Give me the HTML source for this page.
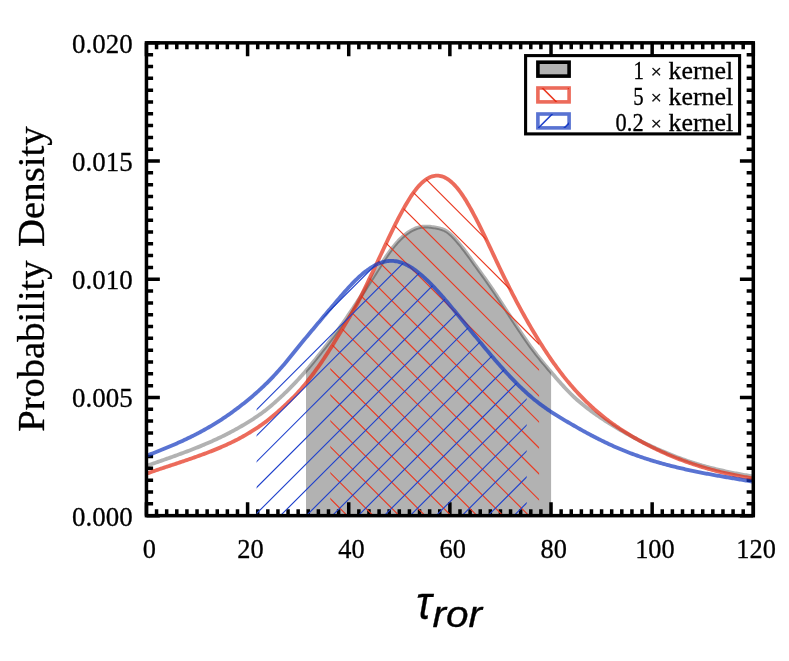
<!DOCTYPE html>
<html><head><meta charset="utf-8"><title>tau_ror posterior</title>
<style>
html,body{margin:0;padding:0;background:#fff;}
body{width:789px;height:661px;overflow:hidden;font-family:"Liberation Serif",serif;}
svg{display:block;will-change:transform;}
text{font-family:"Liberation Serif",serif;fill:#000;stroke:#000;stroke-width:0.3px;stroke-linejoin:round;}
.sans{font-family:"Liberation Sans",sans-serif;font-style:italic;}
</style></head><body>
<svg width="789" height="661" viewBox="0 0 789 661">
<rect x="0" y="0" width="789" height="661" fill="#ffffff"/>
<defs>
<clipPath id="axclip"><rect x="146.45" y="42.85" width="606.85" height="472.80"/></clipPath>
<clipPath id="redclip"><path d="M330.30 515.65 L330.30 348.73 L331.35 347.06 L332.40 345.37 L333.45 343.66 L334.50 341.94 L335.55 340.21 L336.60 338.48 L337.64 336.75 L338.69 335.01 L339.74 333.28 L340.79 331.54 L341.84 329.81 L342.89 328.07 L343.94 326.33 L344.99 324.60 L346.04 322.86 L347.09 321.11 L348.14 319.34 L349.19 317.57 L350.24 315.78 L351.28 313.99 L352.33 312.18 L353.38 310.36 L354.43 308.53 L355.48 306.68 L356.53 304.78 L357.58 302.85 L358.63 300.88 L359.68 298.88 L360.73 296.83 L361.78 294.74 L362.83 292.61 L363.88 290.44 L364.93 288.26 L365.97 286.05 L367.02 283.84 L368.07 281.62 L369.12 279.41 L370.17 277.20 L371.22 274.99 L372.27 272.78 L373.32 270.58 L374.37 268.38 L375.42 266.17 L376.47 263.95 L377.52 261.72 L378.57 259.49 L379.61 257.25 L380.66 255.01 L381.71 252.77 L382.76 250.53 L383.81 248.29 L384.86 246.06 L385.91 243.83 L386.96 241.61 L388.01 239.40 L389.06 237.20 L390.11 235.00 L391.16 232.83 L392.21 230.66 L393.25 228.52 L394.30 226.39 L395.35 224.29 L396.40 222.20 L397.45 220.14 L398.50 218.10 L399.55 216.08 L400.60 214.09 L401.65 212.14 L402.70 210.22 L403.75 208.32 L404.80 206.46 L405.85 204.64 L406.89 202.85 L407.94 201.10 L408.99 199.39 L410.04 197.73 L411.09 196.11 L412.14 194.55 L413.19 193.04 L414.24 191.59 L415.29 190.19 L416.34 188.86 L417.39 187.59 L418.44 186.38 L419.49 185.23 L420.54 184.15 L421.58 183.13 L422.63 182.17 L423.68 181.27 L424.73 180.44 L425.78 179.67 L426.83 178.97 L427.88 178.33 L428.93 177.75 L429.98 177.24 L431.03 176.80 L432.08 176.43 L433.13 176.14 L434.18 175.90 L435.22 175.74 L436.27 175.64 L437.32 175.61 L438.37 175.66 L439.42 175.79 L440.47 175.99 L441.52 176.26 L442.57 176.59 L443.62 176.99 L444.67 177.46 L445.72 177.99 L446.77 178.60 L447.82 179.27 L448.86 180.01 L449.91 180.81 L450.96 181.67 L452.01 182.59 L453.06 183.57 L454.11 184.61 L455.16 185.72 L456.21 186.89 L457.26 188.13 L458.31 189.42 L459.36 190.78 L460.41 192.19 L461.46 193.65 L462.51 195.18 L463.55 196.76 L464.60 198.40 L465.65 200.08 L466.70 201.81 L467.75 203.57 L468.80 205.37 L469.85 207.21 L470.90 209.09 L471.95 211.00 L473.00 212.94 L474.05 214.91 L475.10 216.90 L476.15 218.92 L477.19 220.97 L478.24 223.05 L479.29 225.14 L480.34 227.25 L481.39 229.39 L482.44 231.54 L483.49 233.70 L484.54 235.88 L485.59 238.07 L486.64 240.27 L487.69 242.48 L488.74 244.70 L489.79 246.93 L490.83 249.15 L491.88 251.38 L492.93 253.62 L493.98 255.85 L495.03 258.07 L496.08 260.30 L497.13 262.52 L498.18 264.73 L499.23 266.94 L500.28 269.13 L501.33 271.31 L502.38 273.48 L503.43 275.64 L504.47 277.78 L505.52 279.91 L506.57 282.03 L507.62 284.14 L508.67 286.23 L509.72 288.31 L510.77 290.37 L511.82 292.42 L512.87 294.46 L513.92 296.49 L514.97 298.51 L516.02 300.50 L517.07 302.49 L518.12 304.46 L519.16 306.42 L520.21 308.37 L521.26 310.30 L522.31 312.22 L523.36 314.13 L524.41 316.02 L525.46 317.89 L526.51 319.76 L527.56 321.61 L528.61 323.44 L529.66 325.27 L530.71 327.08 L531.76 328.87 L532.80 330.65 L533.85 332.41 L534.90 334.16 L535.95 335.90 L537.00 337.62 L538.05 339.33 L539.10 341.03 L539.10 515.65 Z"/></clipPath>
<clipPath id="blueclip"><path d="M256.60 515.65 L256.60 392.61 L257.96 391.40 L259.31 390.17 L260.67 388.92 L262.03 387.66 L263.39 386.38 L264.74 385.09 L266.10 383.77 L267.46 382.44 L268.82 381.08 L270.17 379.70 L271.53 378.30 L272.89 376.88 L274.24 375.44 L275.60 373.97 L276.96 372.48 L278.32 370.98 L279.67 369.46 L281.03 367.93 L282.39 366.37 L283.75 364.79 L285.10 363.19 L286.46 361.57 L287.82 359.93 L289.17 358.28 L290.53 356.60 L291.89 354.92 L293.25 353.23 L294.60 351.53 L295.96 349.84 L297.32 348.15 L298.68 346.47 L300.03 344.80 L301.39 343.14 L302.75 341.50 L304.11 339.86 L305.46 338.23 L306.82 336.61 L308.18 334.99 L309.53 333.36 L310.89 331.74 L312.25 330.12 L313.61 328.50 L314.96 326.88 L316.32 325.26 L317.68 323.64 L319.04 322.02 L320.39 320.41 L321.75 318.79 L323.11 317.18 L324.46 315.57 L325.82 313.96 L327.18 312.36 L328.54 310.76 L329.89 309.16 L331.25 307.56 L332.61 305.96 L333.97 304.37 L335.32 302.77 L336.68 301.17 L338.04 299.57 L339.39 297.98 L340.75 296.40 L342.11 294.82 L343.47 293.26 L344.82 291.72 L346.18 290.19 L347.54 288.69 L348.90 287.21 L350.25 285.75 L351.61 284.31 L352.97 282.91 L354.32 281.53 L355.68 280.18 L357.04 278.87 L358.40 277.59 L359.75 276.35 L361.11 275.14 L362.47 273.98 L363.83 272.85 L365.18 271.77 L366.54 270.73 L367.90 269.73 L369.25 268.79 L370.61 267.88 L371.97 267.03 L373.33 266.22 L374.68 265.47 L376.04 264.76 L377.40 264.11 L378.76 263.52 L380.11 262.98 L381.47 262.51 L382.83 262.09 L384.18 261.73 L385.54 261.44 L386.90 261.20 L388.26 261.03 L389.61 260.92 L390.97 260.87 L392.33 260.90 L393.69 260.98 L395.04 261.13 L396.40 261.34 L397.76 261.61 L399.12 261.95 L400.47 262.35 L401.83 262.80 L403.19 263.32 L404.54 263.89 L405.90 264.52 L407.26 265.20 L408.62 265.93 L409.97 266.71 L411.33 267.54 L412.69 268.42 L414.05 269.34 L415.40 270.31 L416.76 271.33 L418.12 272.38 L419.47 273.47 L420.83 274.60 L422.19 275.76 L423.55 276.96 L424.90 278.19 L426.26 279.46 L427.62 280.75 L428.98 282.08 L430.33 283.43 L431.69 284.81 L433.05 286.21 L434.40 287.63 L435.76 289.08 L437.12 290.54 L438.48 292.03 L439.83 293.53 L441.19 295.05 L442.55 296.59 L443.91 298.15 L445.26 299.73 L446.62 301.32 L447.98 302.92 L449.33 304.54 L450.69 306.17 L452.05 307.81 L453.41 309.46 L454.76 311.11 L456.12 312.76 L457.48 314.41 L458.84 316.07 L460.19 317.73 L461.55 319.40 L462.91 321.06 L464.26 322.73 L465.62 324.40 L466.98 326.07 L468.34 327.73 L469.69 329.40 L471.05 331.07 L472.41 332.73 L473.77 334.40 L475.12 336.06 L476.48 337.72 L477.84 339.37 L479.19 341.02 L480.55 342.67 L481.91 344.31 L483.27 345.95 L484.62 347.58 L485.98 349.21 L487.34 350.83 L488.70 352.44 L490.05 354.05 L491.41 355.65 L492.77 357.24 L494.13 358.82 L495.48 360.39 L496.84 361.95 L498.20 363.50 L499.55 365.05 L500.91 366.58 L502.27 368.10 L503.63 369.61 L504.98 371.10 L506.34 372.59 L507.70 374.06 L509.06 375.51 L510.41 376.96 L511.77 378.38 L513.13 379.80 L514.48 381.19 L515.84 382.58 L517.20 383.94 L518.56 385.29 L519.91 386.62 L521.27 387.94 L522.63 389.23 L523.99 390.51 L525.34 391.77 L526.70 393.01 L526.70 515.65 Z"/></clipPath>
</defs>
<path d="M146.45 515.65v-13.40M146.45 42.85v13.40M156.56 515.65v-6.30M156.56 42.85v6.30M166.68 515.65v-6.30M166.68 42.85v6.30M176.79 515.65v-6.30M176.79 42.85v6.30M186.91 515.65v-6.30M186.91 42.85v6.30M197.02 515.65v-6.30M197.02 42.85v6.30M207.13 515.65v-6.30M207.13 42.85v6.30M217.25 515.65v-6.30M217.25 42.85v6.30M227.36 515.65v-6.30M227.36 42.85v6.30M237.48 515.65v-6.30M237.48 42.85v6.30M247.59 515.65v-13.40M247.59 42.85v13.40M257.71 515.65v-6.30M257.71 42.85v6.30M267.82 515.65v-6.30M267.82 42.85v6.30M277.93 515.65v-6.30M277.93 42.85v6.30M288.05 515.65v-6.30M288.05 42.85v6.30M298.16 515.65v-6.30M298.16 42.85v6.30M308.28 515.65v-6.30M308.28 42.85v6.30M318.39 515.65v-6.30M318.39 42.85v6.30M328.50 515.65v-6.30M328.50 42.85v6.30M338.62 515.65v-6.30M338.62 42.85v6.30M348.73 515.65v-13.40M348.73 42.85v13.40M358.85 515.65v-6.30M358.85 42.85v6.30M368.96 515.65v-6.30M368.96 42.85v6.30M379.08 515.65v-6.30M379.08 42.85v6.30M389.19 515.65v-6.30M389.19 42.85v6.30M399.30 515.65v-6.30M399.30 42.85v6.30M409.42 515.65v-6.30M409.42 42.85v6.30M419.53 515.65v-6.30M419.53 42.85v6.30M429.65 515.65v-6.30M429.65 42.85v6.30M439.76 515.65v-6.30M439.76 42.85v6.30M449.87 515.65v-13.40M449.87 42.85v13.40M459.99 515.65v-6.30M459.99 42.85v6.30M470.10 515.65v-6.30M470.10 42.85v6.30M480.22 515.65v-6.30M480.22 42.85v6.30M490.33 515.65v-6.30M490.33 42.85v6.30M500.45 515.65v-6.30M500.45 42.85v6.30M510.56 515.65v-6.30M510.56 42.85v6.30M520.67 515.65v-6.30M520.67 42.85v6.30M530.79 515.65v-6.30M530.79 42.85v6.30M540.90 515.65v-6.30M540.90 42.85v6.30M551.02 515.65v-13.40M551.02 42.85v13.40M561.13 515.65v-6.30M561.13 42.85v6.30M571.24 515.65v-6.30M571.24 42.85v6.30M581.36 515.65v-6.30M581.36 42.85v6.30M591.47 515.65v-6.30M591.47 42.85v6.30M601.59 515.65v-6.30M601.59 42.85v6.30M611.70 515.65v-6.30M611.70 42.85v6.30M621.82 515.65v-6.30M621.82 42.85v6.30M631.93 515.65v-6.30M631.93 42.85v6.30M642.04 515.65v-6.30M642.04 42.85v6.30M652.16 515.65v-13.40M652.16 42.85v13.40M662.27 515.65v-6.30M662.27 42.85v6.30M672.39 515.65v-6.30M672.39 42.85v6.30M682.50 515.65v-6.30M682.50 42.85v6.30M692.61 515.65v-6.30M692.61 42.85v6.30M702.73 515.65v-6.30M702.73 42.85v6.30M712.84 515.65v-6.30M712.84 42.85v6.30M722.96 515.65v-6.30M722.96 42.85v6.30M733.07 515.65v-6.30M733.07 42.85v6.30M743.19 515.65v-6.30M743.19 42.85v6.30M753.30 515.65v-13.40M753.30 42.85v13.40M146.45 515.65h13.40M753.30 515.65h-13.40M146.45 503.83h6.65M753.30 503.83h-6.65M146.45 492.01h6.65M753.30 492.01h-6.65M146.45 480.19h6.65M753.30 480.19h-6.65M146.45 468.37h6.65M753.30 468.37h-6.65M146.45 456.55h6.65M753.30 456.55h-6.65M146.45 444.73h6.65M753.30 444.73h-6.65M146.45 432.91h6.65M753.30 432.91h-6.65M146.45 421.09h6.65M753.30 421.09h-6.65M146.45 409.27h6.65M753.30 409.27h-6.65M146.45 397.45h13.40M753.30 397.45h-13.40M146.45 385.63h6.65M753.30 385.63h-6.65M146.45 373.81h6.65M753.30 373.81h-6.65M146.45 361.99h6.65M753.30 361.99h-6.65M146.45 350.17h6.65M753.30 350.17h-6.65M146.45 338.35h6.65M753.30 338.35h-6.65M146.45 326.53h6.65M753.30 326.53h-6.65M146.45 314.71h6.65M753.30 314.71h-6.65M146.45 302.89h6.65M753.30 302.89h-6.65M146.45 291.07h6.65M753.30 291.07h-6.65M146.45 279.25h13.40M753.30 279.25h-13.40M146.45 267.43h6.65M753.30 267.43h-6.65M146.45 255.61h6.65M753.30 255.61h-6.65M146.45 243.79h6.65M753.30 243.79h-6.65M146.45 231.97h6.65M753.30 231.97h-6.65M146.45 220.15h6.65M753.30 220.15h-6.65M146.45 208.33h6.65M753.30 208.33h-6.65M146.45 196.51h6.65M753.30 196.51h-6.65M146.45 184.69h6.65M753.30 184.69h-6.65M146.45 172.87h6.65M753.30 172.87h-6.65M146.45 161.05h13.40M753.30 161.05h-13.40M146.45 149.23h6.65M753.30 149.23h-6.65M146.45 137.41h6.65M753.30 137.41h-6.65M146.45 125.59h6.65M753.30 125.59h-6.65M146.45 113.77h6.65M753.30 113.77h-6.65M146.45 101.95h6.65M753.30 101.95h-6.65M146.45 90.13h6.65M753.30 90.13h-6.65M146.45 78.31h6.65M753.30 78.31h-6.65M146.45 66.49h6.65M753.30 66.49h-6.65M146.45 54.67h6.65M753.30 54.67h-6.65M146.45 42.85h13.40M753.30 42.85h-13.40" stroke="#000" stroke-width="3.5" fill="none"/>
<g clip-path="url(#axclip)">
<path d="M306.00 515.65 L306.00 370.76 L307.23 369.33 L308.46 367.87 L309.69 366.41 L310.93 364.93 L312.16 363.44 L313.39 361.93 L314.62 360.41 L315.85 358.88 L317.08 357.34 L318.32 355.79 L319.55 354.24 L320.78 352.69 L322.01 351.12 L323.24 349.56 L324.47 347.98 L325.71 346.40 L326.94 344.81 L328.17 343.21 L329.40 341.59 L330.63 339.96 L331.86 338.32 L333.10 336.66 L334.33 335.00 L335.56 333.32 L336.79 331.63 L338.02 329.92 L339.25 328.21 L340.49 326.48 L341.72 324.74 L342.95 322.99 L344.18 321.22 L345.41 319.45 L346.64 317.66 L347.88 315.87 L349.11 314.06 L350.34 312.24 L351.57 310.40 L352.80 308.56 L354.03 306.71 L355.27 304.84 L356.50 302.97 L357.73 301.08 L358.96 299.18 L360.19 297.28 L361.42 295.36 L362.66 293.43 L363.89 291.49 L365.12 289.55 L366.35 287.60 L367.58 285.65 L368.81 283.71 L370.05 281.77 L371.28 279.84 L372.51 277.91 L373.74 275.97 L374.97 274.05 L376.20 272.12 L377.44 270.19 L378.67 268.26 L379.90 266.33 L381.13 264.41 L382.36 262.50 L383.59 260.61 L384.83 258.73 L386.06 256.89 L387.29 255.07 L388.52 253.30 L389.75 251.57 L390.98 249.88 L392.22 248.25 L393.45 246.69 L394.68 245.18 L395.91 243.73 L397.14 242.33 L398.37 241.00 L399.61 239.72 L400.84 238.50 L402.07 237.34 L403.30 236.24 L404.53 235.20 L405.76 234.21 L407.00 233.29 L408.23 232.42 L409.46 231.61 L410.69 230.86 L411.92 230.18 L413.15 229.55 L414.39 228.98 L415.62 228.48 L416.85 228.04 L418.08 227.65 L419.31 227.33 L420.54 227.07 L421.78 226.87 L423.01 226.72 L424.24 226.62 L425.47 226.57 L426.70 226.57 L427.93 226.61 L429.17 226.71 L430.40 226.84 L431.63 227.01 L432.86 227.19 L434.09 227.38 L435.32 227.59 L436.56 227.82 L437.79 228.06 L439.02 228.33 L440.25 228.64 L441.48 228.99 L442.71 229.40 L443.95 229.90 L445.18 230.48 L446.41 231.18 L447.64 231.98 L448.87 232.90 L450.10 233.92 L451.34 235.03 L452.57 236.21 L453.80 237.47 L455.03 238.80 L456.26 240.19 L457.49 241.63 L458.73 243.09 L459.96 244.59 L461.19 246.11 L462.42 247.67 L463.65 249.25 L464.88 250.86 L466.12 252.50 L467.35 254.16 L468.58 255.85 L469.81 257.56 L471.04 259.28 L472.27 261.00 L473.51 262.72 L474.74 264.43 L475.97 266.14 L477.20 267.85 L478.43 269.55 L479.66 271.24 L480.90 272.92 L482.13 274.62 L483.36 276.32 L484.59 278.05 L485.82 279.78 L487.05 281.53 L488.29 283.28 L489.52 285.04 L490.75 286.82 L491.98 288.62 L493.21 290.43 L494.44 292.25 L495.68 294.09 L496.91 295.95 L498.14 297.81 L499.37 299.69 L500.60 301.59 L501.83 303.48 L503.07 305.38 L504.30 307.28 L505.53 309.18 L506.76 311.07 L507.99 312.97 L509.22 314.86 L510.46 316.75 L511.69 318.64 L512.92 320.52 L514.15 322.39 L515.38 324.27 L516.61 326.13 L517.85 327.99 L519.08 329.84 L520.31 331.69 L521.54 333.52 L522.77 335.35 L524.00 337.17 L525.24 338.98 L526.47 340.76 L527.70 342.52 L528.93 344.26 L530.16 345.98 L531.39 347.67 L532.63 349.34 L533.86 350.98 L535.09 352.59 L536.32 354.19 L537.55 355.76 L538.78 357.32 L540.02 358.86 L541.25 360.38 L542.48 361.89 L543.71 363.38 L544.94 364.87 L546.17 366.34 L547.41 367.81 L548.64 369.27 L549.87 370.71 L551.10 372.15 L551.10 515.65 Z" fill="#000" fill-opacity="0.3" stroke="none"/>
<path d="M146.45 465.97 L147.67 465.53 L148.88 465.09 L150.10 464.65 L151.31 464.22 L152.53 463.79 L153.75 463.37 L154.96 462.94 L156.18 462.51 L157.40 462.09 L158.61 461.66 L159.83 461.23 L161.04 460.81 L162.26 460.38 L163.48 459.95 L164.69 459.53 L165.91 459.10 L167.12 458.67 L168.34 458.24 L169.56 457.81 L170.77 457.38 L171.99 456.95 L173.20 456.51 L174.42 456.07 L175.64 455.64 L176.85 455.20 L178.07 454.76 L179.29 454.31 L180.50 453.87 L181.72 453.42 L182.93 452.97 L184.15 452.52 L185.37 452.06 L186.58 451.61 L187.80 451.15 L189.01 450.68 L190.23 450.22 L191.45 449.75 L192.66 449.27 L193.88 448.80 L195.10 448.31 L196.31 447.83 L197.53 447.34 L198.74 446.85 L199.96 446.36 L201.18 445.86 L202.39 445.35 L203.61 444.85 L204.82 444.33 L206.04 443.82 L207.26 443.30 L208.47 442.77 L209.69 442.24 L210.91 441.70 L212.12 441.16 L213.34 440.61 L214.55 440.06 L215.77 439.50 L216.99 438.94 L218.20 438.36 L219.42 437.79 L220.63 437.20 L221.85 436.62 L223.07 436.02 L224.28 435.42 L225.50 434.81 L226.71 434.19 L227.93 433.57 L229.15 432.94 L230.36 432.30 L231.58 431.66 L232.80 431.01 L234.01 430.35 L235.23 429.68 L236.44 429.00 L237.66 428.32 L238.88 427.64 L240.09 426.94 L241.31 426.24 L242.52 425.53 L243.74 424.81 L244.96 424.09 L246.17 423.35 L247.39 422.61 L248.61 421.86 L249.82 421.10 L251.04 420.33 L252.25 419.56 L253.47 418.77 L254.69 417.97 L255.90 417.16 L257.12 416.34 L258.33 415.52 L259.55 414.68 L260.77 413.83 L261.98 412.95 L263.20 412.06 L264.41 411.14 L265.63 410.20 L266.85 409.24 L268.06 408.26 L269.28 407.26 L270.50 406.23 L271.71 405.19 L272.93 404.14 L274.14 403.07 L275.36 402.00 L276.58 400.91 L277.79 399.81 L279.01 398.70 L280.22 397.57 L281.44 396.43 L282.66 395.29 L283.87 394.13 L285.09 392.96 L286.31 391.77 L287.52 390.58 L288.74 389.37 L289.95 388.15 L291.17 386.92 L292.39 385.67 L293.60 384.41 L294.82 383.14 L296.03 381.85 L297.25 380.55 L298.47 379.23 L299.68 377.90 L300.90 376.56 L302.11 375.20 L303.33 373.83 L304.55 372.44 L305.76 371.04 L306.98 369.62 L308.20 368.19 L309.41 366.75 L310.63 365.29 L311.84 363.82 L313.06 362.33 L314.28 360.84 L315.49 359.33 L316.71 357.81 L317.92 356.29 L319.14 354.76 L320.36 353.22 L321.57 351.68 L322.79 350.14 L324.01 348.58 L325.22 347.03 L326.44 345.46 L327.65 343.88 L328.87 342.29 L330.09 340.69 L331.30 339.07 L332.52 337.44 L333.73 335.80 L334.95 334.15 L336.17 332.49 L337.38 330.81 L338.60 329.12 L339.82 327.42 L341.03 325.71 L342.25 323.99 L343.46 322.26 L344.68 320.51 L345.90 318.75 L347.11 316.98 L348.33 315.20 L349.54 313.41 L350.76 311.61 L351.98 309.80 L353.19 307.98 L354.41 306.14 L355.62 304.30 L356.84 302.44 L358.06 300.58 L359.27 298.70 L360.49 296.82 L361.71 294.92 L362.92 293.01 L364.14 291.10 L365.35 289.17 L366.57 287.25 L367.79 285.33 L369.00 283.42 L370.22 281.50 L371.43 279.59 L372.65 277.68 L373.87 275.78 L375.08 273.88 L376.30 271.97 L377.52 270.07 L378.73 268.16 L379.95 266.26 L381.16 264.36 L382.38 262.48 L383.60 260.60 L384.81 258.75 L386.03 256.93 L387.24 255.14 L388.46 253.39 L389.68 251.67 L390.89 250.00 L392.11 248.39 L393.32 246.84 L394.54 245.34 L395.76 243.90 L396.97 242.52 L398.19 241.19 L399.41 239.92 L400.62 238.71 L401.84 237.55 L403.05 236.45 L404.27 235.41 L405.49 234.43 L406.70 233.50 L407.92 232.63 L409.13 231.81 L410.35 231.06 L411.57 230.36 L412.78 229.73 L414.00 229.15 L415.22 228.63 L416.43 228.17 L417.65 227.77 L418.86 227.43 L420.08 227.15 L421.30 226.93 L422.51 226.77 L423.73 226.65 L424.94 226.58 L426.16 226.56 L427.38 226.58 L428.59 226.65 L429.81 226.77 L431.02 226.93 L432.24 227.09 L433.46 227.27 L434.67 227.47 L435.89 227.69 L437.11 227.92 L438.32 228.17 L439.54 228.45 L440.75 228.77 L441.97 229.13 L443.19 229.57 L444.40 230.09 L445.62 230.71 L446.83 231.43 L448.05 232.26 L449.27 233.20 L450.48 234.24 L451.70 235.36 L452.92 236.55 L454.13 237.81 L455.35 239.15 L456.56 240.54 L457.78 241.96 L459.00 243.42 L460.21 244.90 L461.43 246.41 L462.64 247.95 L463.86 249.52 L465.08 251.12 L466.29 252.73 L467.51 254.38 L468.73 256.05 L469.94 257.74 L471.16 259.44 L472.37 261.14 L473.59 262.84 L474.81 264.53 L476.02 266.22 L477.24 267.90 L478.45 269.58 L479.67 271.25 L480.89 272.91 L482.10 274.58 L483.32 276.27 L484.53 277.97 L485.75 279.68 L486.97 281.40 L488.18 283.13 L489.40 284.88 L490.62 286.63 L491.83 288.40 L493.05 290.18 L494.26 291.98 L495.48 293.80 L496.70 295.63 L497.91 297.47 L499.13 299.32 L500.34 301.19 L501.56 303.06 L502.78 304.94 L503.99 306.81 L505.21 308.69 L506.43 310.56 L507.64 312.43 L508.86 314.30 L510.07 316.16 L511.29 318.03 L512.51 319.89 L513.72 321.74 L514.94 323.59 L516.15 325.44 L517.37 327.28 L518.59 329.11 L519.80 330.93 L521.02 332.75 L522.23 334.56 L523.45 336.36 L524.67 338.15 L525.88 339.92 L527.10 341.67 L528.32 343.40 L529.53 345.11 L530.75 346.79 L531.96 348.45 L533.18 350.08 L534.40 351.69 L535.61 353.28 L536.83 354.84 L538.04 356.39 L539.26 357.92 L540.48 359.44 L541.69 360.93 L542.91 362.41 L544.13 363.88 L545.34 365.35 L546.56 366.80 L547.77 368.25 L548.99 369.68 L550.21 371.11 L551.42 372.53 L552.64 373.95 L553.85 375.37 L555.07 376.78 L556.29 378.18 L557.50 379.57 L558.72 380.95 L559.93 382.33 L561.15 383.69 L562.37 385.05 L563.58 386.38 L564.80 387.70 L566.02 388.99 L567.23 390.27 L568.45 391.54 L569.66 392.78 L570.88 394.01 L572.10 395.20 L573.31 396.37 L574.53 397.51 L575.74 398.63 L576.96 399.72 L578.18 400.78 L579.39 401.82 L580.61 402.84 L581.83 403.83 L583.04 404.81 L584.26 405.78 L585.47 406.74 L586.69 407.68 L587.91 408.61 L589.12 409.53 L590.34 410.44 L591.55 411.34 L592.77 412.22 L593.99 413.09 L595.20 413.96 L596.42 414.81 L597.64 415.66 L598.85 416.49 L600.07 417.32 L601.28 418.13 L602.50 418.94 L603.72 419.74 L604.93 420.53 L606.15 421.32 L607.36 422.09 L608.58 422.86 L609.80 423.63 L611.01 424.38 L612.23 425.14 L613.44 425.88 L614.66 426.62 L615.88 427.36 L617.09 428.08 L618.31 428.81 L619.53 429.52 L620.74 430.23 L621.96 430.94 L623.17 431.64 L624.39 432.33 L625.61 433.02 L626.82 433.70 L628.04 434.38 L629.25 435.05 L630.47 435.72 L631.69 436.38 L632.90 437.03 L634.12 437.68 L635.34 438.32 L636.55 438.96 L637.77 439.59 L638.98 440.22 L640.20 440.84 L641.42 441.45 L642.63 442.06 L643.85 442.67 L645.06 443.27 L646.28 443.86 L647.50 444.45 L648.71 445.04 L649.93 445.61 L651.14 446.19 L652.36 446.75 L653.58 447.31 L654.79 447.87 L656.01 448.42 L657.23 448.97 L658.44 449.51 L659.66 450.05 L660.87 450.58 L662.09 451.10 L663.31 451.62 L664.52 452.14 L665.74 452.65 L666.95 453.15 L668.17 453.65 L669.39 454.15 L670.60 454.64 L671.82 455.12 L673.04 455.60 L674.25 456.08 L675.47 456.54 L676.68 457.01 L677.90 457.47 L679.12 457.92 L680.33 458.37 L681.55 458.82 L682.76 459.26 L683.98 459.69 L685.20 460.12 L686.41 460.55 L687.63 460.96 L688.84 461.38 L690.06 461.78 L691.28 462.18 L692.49 462.57 L693.71 462.95 L694.93 463.33 L696.14 463.70 L697.36 464.07 L698.57 464.43 L699.79 464.79 L701.01 465.15 L702.22 465.49 L703.44 465.84 L704.65 466.18 L705.87 466.51 L707.09 466.84 L708.30 467.17 L709.52 467.49 L710.74 467.81 L711.95 468.12 L713.17 468.43 L714.38 468.73 L715.60 469.03 L716.82 469.33 L718.03 469.62 L719.25 469.90 L720.46 470.18 L721.68 470.46 L722.90 470.73 L724.11 471.00 L725.33 471.27 L726.55 471.53 L727.76 471.79 L728.98 472.04 L730.19 472.30 L731.41 472.54 L732.63 472.79 L733.84 473.03 L735.06 473.28 L736.27 473.51 L737.49 473.75 L738.71 473.98 L739.92 474.20 L741.14 474.42 L742.35 474.64 L743.57 474.85 L744.79 475.06 L746.00 475.27 L747.22 475.47 L748.44 475.66 L749.65 475.86 L750.87 476.05 L752.08 476.23 L753.30 476.42" fill="none" stroke="#000" stroke-opacity="0.3" stroke-width="3.85" stroke-linejoin="round"/>
<g clip-path="url(#redclip)"><path d="M-275.30 22.85L237.50 535.65M-249.35 22.85L263.45 535.65M-223.40 22.85L289.40 535.65M-197.45 22.85L315.35 535.65M-171.50 22.85L341.30 535.65M-145.55 22.85L367.25 535.65M-119.60 22.85L393.20 535.65M-93.65 22.85L419.15 535.65M-67.70 22.85L445.10 535.65M-41.75 22.85L471.05 535.65M-15.80 22.85L497.00 535.65M10.15 22.85L522.95 535.65M36.10 22.85L548.90 535.65M62.05 22.85L574.85 535.65M88.00 22.85L600.80 535.65M113.95 22.85L626.75 535.65M139.90 22.85L652.70 535.65M165.85 22.85L678.65 535.65M191.80 22.85L704.60 535.65M217.75 22.85L730.55 535.65M243.70 22.85L756.50 535.65M269.65 22.85L782.45 535.65M295.60 22.85L808.40 535.65M321.55 22.85L834.35 535.65M347.50 22.85L860.30 535.65M373.45 22.85L886.25 535.65M399.40 22.85L912.20 535.65M425.35 22.85L938.15 535.65M451.30 22.85L964.10 535.65M477.25 22.85L990.05 535.65M503.20 22.85L1016.00 535.65M529.15 22.85L1041.95 535.65M555.10 22.85L1067.90 535.65M581.05 22.85L1093.85 535.65M607.00 22.85L1119.80 535.65M632.95 22.85L1145.75 535.65M658.90 22.85L1171.70 535.65M684.85 22.85L1197.65 535.65M710.80 22.85L1223.60 535.65M736.75 22.85L1249.55 535.65M762.70 22.85L1275.50 535.65M788.65 22.85L1301.45 535.65M814.60 22.85L1327.40 535.65M840.55 22.85L1353.35 535.65M866.50 22.85L1379.30 535.65" stroke="#ea3a22" stroke-width="1.15" fill="none"/></g>
<path d="M146.45 473.69 L147.67 473.25 L148.88 472.82 L150.10 472.39 L151.31 471.96 L152.53 471.54 L153.75 471.12 L154.96 470.70 L156.18 470.29 L157.40 469.88 L158.61 469.46 L159.83 469.05 L161.04 468.65 L162.26 468.24 L163.48 467.83 L164.69 467.43 L165.91 467.03 L167.12 466.62 L168.34 466.22 L169.56 465.82 L170.77 465.42 L171.99 465.01 L173.20 464.61 L174.42 464.21 L175.64 463.81 L176.85 463.40 L178.07 463.00 L179.29 462.59 L180.50 462.19 L181.72 461.78 L182.93 461.37 L184.15 460.96 L185.37 460.55 L186.58 460.13 L187.80 459.72 L189.01 459.30 L190.23 458.88 L191.45 458.45 L192.66 458.02 L193.88 457.59 L195.10 457.16 L196.31 456.73 L197.53 456.29 L198.74 455.86 L199.96 455.42 L201.18 454.98 L202.39 454.53 L203.61 454.09 L204.82 453.64 L206.04 453.19 L207.26 452.73 L208.47 452.27 L209.69 451.81 L210.91 451.34 L212.12 450.86 L213.34 450.38 L214.55 449.89 L215.77 449.40 L216.99 448.90 L218.20 448.39 L219.42 447.88 L220.63 447.36 L221.85 446.84 L223.07 446.31 L224.28 445.77 L225.50 445.22 L226.71 444.67 L227.93 444.11 L229.15 443.54 L230.36 442.97 L231.58 442.38 L232.80 441.79 L234.01 441.19 L235.23 440.58 L236.44 439.97 L237.66 439.34 L238.88 438.70 L240.09 438.05 L241.31 437.39 L242.52 436.72 L243.74 436.04 L244.96 435.35 L246.17 434.65 L247.39 433.93 L248.61 433.21 L249.82 432.48 L251.04 431.73 L252.25 430.98 L253.47 430.21 L254.69 429.44 L255.90 428.65 L257.12 427.85 L258.33 427.04 L259.55 426.21 L260.77 425.38 L261.98 424.52 L263.20 423.65 L264.41 422.76 L265.63 421.86 L266.85 420.93 L268.06 419.99 L269.28 419.03 L270.50 418.06 L271.71 417.06 L272.93 416.05 L274.14 415.03 L275.36 413.99 L276.58 412.94 L277.79 411.88 L279.01 410.80 L280.22 409.70 L281.44 408.60 L282.66 407.48 L283.87 406.36 L285.09 405.23 L286.31 404.08 L287.52 402.93 L288.74 401.77 L289.95 400.60 L291.17 399.41 L292.39 398.21 L293.60 396.99 L294.82 395.75 L296.03 394.49 L297.25 393.20 L298.47 391.88 L299.68 390.54 L300.90 389.16 L302.11 387.76 L303.33 386.32 L304.55 384.86 L305.76 383.36 L306.98 381.85 L308.20 380.31 L309.41 378.76 L310.63 377.18 L311.84 375.58 L313.06 373.97 L314.28 372.33 L315.49 370.67 L316.71 368.99 L317.92 367.29 L319.14 365.57 L320.36 363.82 L321.57 362.06 L322.79 360.27 L324.01 358.46 L325.22 356.62 L326.44 354.77 L327.65 352.89 L328.87 350.99 L330.09 349.07 L331.30 347.13 L332.52 345.17 L333.73 343.19 L334.95 341.19 L336.17 339.19 L337.38 337.18 L338.60 335.17 L339.82 333.16 L341.03 331.15 L342.25 329.14 L343.46 327.12 L344.68 325.11 L345.90 323.09 L347.11 321.07 L348.33 319.02 L349.54 316.96 L350.76 314.89 L351.98 312.80 L353.19 310.69 L354.41 308.57 L355.62 306.42 L356.84 304.22 L358.06 301.97 L359.27 299.66 L360.49 297.30 L361.71 294.89 L362.92 292.41 L364.14 289.90 L365.35 287.36 L366.57 284.79 L367.79 282.23 L369.00 279.66 L370.22 277.10 L371.43 274.54 L372.65 271.98 L373.87 269.43 L375.08 266.87 L376.30 264.30 L377.52 261.72 L378.73 259.13 L379.95 256.54 L381.16 253.94 L382.38 251.34 L383.60 248.75 L384.81 246.16 L386.03 243.58 L387.24 241.01 L388.46 238.45 L389.68 235.90 L390.89 233.37 L392.11 230.86 L393.32 228.38 L394.54 225.91 L395.76 223.48 L396.97 221.07 L398.19 218.70 L399.41 216.36 L400.62 214.05 L401.84 211.79 L403.05 209.56 L404.27 207.39 L405.49 205.25 L406.70 203.17 L407.92 201.14 L409.13 199.16 L410.35 197.24 L411.57 195.39 L412.78 193.61 L414.00 191.91 L415.22 190.29 L416.43 188.74 L417.65 187.27 L418.86 185.89 L420.08 184.60 L421.30 183.40 L422.51 182.27 L423.73 181.23 L424.94 180.27 L426.16 179.40 L427.38 178.62 L428.59 177.92 L429.81 177.31 L431.02 176.80 L432.24 176.38 L433.46 176.05 L434.67 175.80 L435.89 175.65 L437.11 175.60 L438.32 175.65 L439.54 175.80 L440.75 176.05 L441.97 176.38 L443.19 176.80 L444.40 177.32 L445.62 177.93 L446.83 178.64 L448.05 179.43 L449.27 180.30 L450.48 181.26 L451.70 182.30 L452.92 183.43 L454.13 184.63 L455.35 185.92 L456.56 187.29 L457.78 188.75 L459.00 190.29 L460.21 191.91 L461.43 193.61 L462.64 195.38 L463.86 197.23 L465.08 199.14 L466.29 201.12 L467.51 203.15 L468.73 205.24 L469.94 207.37 L471.16 209.55 L472.37 211.78 L473.59 214.04 L474.81 216.34 L476.02 218.68 L477.24 221.06 L478.45 223.46 L479.67 225.90 L480.89 228.36 L482.10 230.84 L483.32 233.34 L484.53 235.87 L485.75 238.41 L486.97 240.96 L488.18 243.53 L489.40 246.11 L490.62 248.69 L491.83 251.27 L493.05 253.86 L494.26 256.44 L495.48 259.03 L496.70 261.60 L497.91 264.17 L499.13 266.73 L500.34 269.27 L501.56 271.80 L502.78 274.31 L503.99 276.80 L505.21 279.27 L506.43 281.73 L507.64 284.17 L508.86 286.60 L510.07 289.00 L511.29 291.39 L512.51 293.76 L513.72 296.11 L514.94 298.45 L516.15 300.77 L517.37 303.07 L518.59 305.35 L519.80 307.61 L521.02 309.86 L522.23 312.08 L523.45 314.29 L524.67 316.48 L525.88 318.65 L527.10 320.80 L528.32 322.94 L529.53 325.05 L530.75 327.15 L531.96 329.22 L533.18 331.28 L534.40 333.32 L535.61 335.34 L536.83 337.34 L538.04 339.32 L539.26 341.28 L540.48 343.23 L541.69 345.15 L542.91 347.05 L544.13 348.93 L545.34 350.80 L546.56 352.64 L547.77 354.46 L548.99 356.27 L550.21 358.05 L551.42 359.81 L552.64 361.56 L553.85 363.28 L555.07 364.98 L556.29 366.66 L557.50 368.32 L558.72 369.96 L559.93 371.58 L561.15 373.18 L562.37 374.75 L563.58 376.31 L564.80 377.85 L566.02 379.36 L567.23 380.85 L568.45 382.32 L569.66 383.77 L570.88 385.20 L572.10 386.61 L573.31 388.01 L574.53 389.38 L575.74 390.73 L576.96 392.06 L578.18 393.37 L579.39 394.67 L580.61 395.94 L581.83 397.20 L583.04 398.44 L584.26 399.66 L585.47 400.87 L586.69 402.05 L587.91 403.22 L589.12 404.38 L590.34 405.51 L591.55 406.63 L592.77 407.74 L593.99 408.83 L595.20 409.90 L596.42 410.96 L597.64 412.00 L598.85 413.03 L600.07 414.05 L601.28 415.05 L602.50 416.03 L603.72 417.00 L604.93 417.96 L606.15 418.91 L607.36 419.84 L608.58 420.76 L609.80 421.67 L611.01 422.56 L612.23 423.44 L613.44 424.32 L614.66 425.17 L615.88 426.02 L617.09 426.86 L618.31 427.69 L619.53 428.50 L620.74 429.31 L621.96 430.10 L623.17 430.89 L624.39 431.66 L625.61 432.43 L626.82 433.19 L628.04 433.94 L629.25 434.68 L630.47 435.41 L631.69 436.13 L632.90 436.85 L634.12 437.56 L635.34 438.26 L636.55 438.95 L637.77 439.64 L638.98 440.32 L640.20 440.99 L641.42 441.66 L642.63 442.32 L643.85 442.97 L645.06 443.62 L646.28 444.26 L647.50 444.89 L648.71 445.52 L649.93 446.14 L651.14 446.75 L652.36 447.36 L653.58 447.96 L654.79 448.55 L656.01 449.14 L657.23 449.72 L658.44 450.29 L659.66 450.86 L660.87 451.42 L662.09 451.98 L663.31 452.53 L664.52 453.07 L665.74 453.61 L666.95 454.14 L668.17 454.66 L669.39 455.18 L670.60 455.70 L671.82 456.20 L673.04 456.70 L674.25 457.20 L675.47 457.69 L676.68 458.17 L677.90 458.65 L679.12 459.12 L680.33 459.59 L681.55 460.05 L682.76 460.51 L683.98 460.95 L685.20 461.40 L686.41 461.84 L687.63 462.27 L688.84 462.70 L690.06 463.12 L691.28 463.54 L692.49 463.95 L693.71 464.35 L694.93 464.75 L696.14 465.15 L697.36 465.54 L698.57 465.92 L699.79 466.30 L701.01 466.68 L702.22 467.05 L703.44 467.41 L704.65 467.77 L705.87 468.13 L707.09 468.48 L708.30 468.82 L709.52 469.16 L710.74 469.50 L711.95 469.83 L713.17 470.15 L714.38 470.47 L715.60 470.79 L716.82 471.10 L718.03 471.41 L719.25 471.71 L720.46 472.01 L721.68 472.30 L722.90 472.59 L724.11 472.87 L725.33 473.15 L726.55 473.43 L727.76 473.70 L728.98 473.97 L730.19 474.23 L731.41 474.49 L732.63 474.74 L733.84 474.99 L735.06 475.24 L736.27 475.48 L737.49 475.72 L738.71 475.95 L739.92 476.18 L741.14 476.41 L742.35 476.63 L743.57 476.85 L744.79 477.06 L746.00 477.27 L747.22 477.48 L748.44 477.68 L749.65 477.88 L750.87 478.07 L752.08 478.27 L753.30 478.45" fill="none" stroke="#e42c15" stroke-opacity="0.7" stroke-width="3.85" stroke-linejoin="round"/>
<g clip-path="url(#blueclip)"><path d="M-414.30 535.65L98.50 22.85M-388.35 535.65L124.45 22.85M-362.40 535.65L150.40 22.85M-336.45 535.65L176.35 22.85M-310.50 535.65L202.30 22.85M-284.55 535.65L228.25 22.85M-258.60 535.65L254.20 22.85M-232.65 535.65L280.15 22.85M-206.70 535.65L306.10 22.85M-180.75 535.65L332.05 22.85M-154.80 535.65L358.00 22.85M-128.85 535.65L383.95 22.85M-102.90 535.65L409.90 22.85M-76.95 535.65L435.85 22.85M-51.00 535.65L461.80 22.85M-25.05 535.65L487.75 22.85M0.90 535.65L513.70 22.85M26.85 535.65L539.65 22.85M52.80 535.65L565.60 22.85M78.75 535.65L591.55 22.85M104.70 535.65L617.50 22.85M130.65 535.65L643.45 22.85M156.60 535.65L669.40 22.85M182.55 535.65L695.35 22.85M208.50 535.65L721.30 22.85M234.45 535.65L747.25 22.85M260.40 535.65L773.20 22.85M286.35 535.65L799.15 22.85M312.30 535.65L825.10 22.85M338.25 535.65L851.05 22.85M364.20 535.65L877.00 22.85M390.15 535.65L902.95 22.85M416.10 535.65L928.90 22.85M442.05 535.65L954.85 22.85M468.00 535.65L980.80 22.85M493.95 535.65L1006.75 22.85M519.90 535.65L1032.70 22.85M545.85 535.65L1058.65 22.85M571.80 535.65L1084.60 22.85M597.75 535.65L1110.55 22.85M623.70 535.65L1136.50 22.85M649.65 535.65L1162.45 22.85M675.60 535.65L1188.40 22.85M701.55 535.65L1214.35 22.85M727.50 535.65L1240.30 22.85M753.45 535.65L1266.25 22.85M779.40 535.65L1292.20 22.85M805.35 535.65L1318.15 22.85M831.30 535.65L1344.10 22.85M857.25 535.65L1370.05 22.85" stroke="#2344cc" stroke-width="1.15" fill="none"/></g>
<path d="M146.45 455.79 L147.67 455.31 L148.88 454.84 L150.10 454.37 L151.31 453.90 L152.53 453.43 L153.75 452.95 L154.96 452.47 L156.18 452.00 L157.40 451.51 L158.61 451.03 L159.83 450.54 L161.04 450.06 L162.26 449.56 L163.48 449.07 L164.69 448.57 L165.91 448.07 L167.12 447.57 L168.34 447.06 L169.56 446.55 L170.77 446.03 L171.99 445.51 L173.20 444.99 L174.42 444.46 L175.64 443.93 L176.85 443.39 L178.07 442.85 L179.29 442.31 L180.50 441.76 L181.72 441.20 L182.93 440.64 L184.15 440.07 L185.37 439.50 L186.58 438.93 L187.80 438.35 L189.01 437.76 L190.23 437.16 L191.45 436.57 L192.66 435.96 L193.88 435.35 L195.10 434.73 L196.31 434.11 L197.53 433.47 L198.74 432.84 L199.96 432.19 L201.18 431.54 L202.39 430.88 L203.61 430.22 L204.82 429.54 L206.04 428.86 L207.26 428.17 L208.47 427.47 L209.69 426.77 L210.91 426.06 L212.12 425.34 L213.34 424.61 L214.55 423.87 L215.77 423.12 L216.99 422.37 L218.20 421.61 L219.42 420.83 L220.63 420.05 L221.85 419.26 L223.07 418.46 L224.28 417.65 L225.50 416.83 L226.71 416.00 L227.93 415.17 L229.15 414.32 L230.36 413.46 L231.58 412.59 L232.80 411.71 L234.01 410.82 L235.23 409.92 L236.44 409.01 L237.66 408.09 L238.88 407.17 L240.09 406.24 L241.31 405.30 L242.52 404.35 L243.74 403.39 L244.96 402.43 L246.17 401.45 L247.39 400.47 L248.61 399.47 L249.82 398.46 L251.04 397.44 L252.25 396.41 L253.47 395.36 L254.69 394.30 L255.90 393.24 L257.12 392.15 L258.33 391.06 L259.55 389.95 L260.77 388.83 L261.98 387.70 L263.20 386.56 L264.41 385.40 L265.63 384.23 L266.85 383.04 L268.06 381.84 L269.28 380.61 L270.50 379.37 L271.71 378.12 L272.93 376.84 L274.14 375.55 L275.36 374.23 L276.58 372.91 L277.79 371.56 L279.01 370.21 L280.22 368.84 L281.44 367.46 L282.66 366.06 L283.87 364.64 L285.09 363.21 L286.31 361.76 L287.52 360.29 L288.74 358.81 L289.95 357.32 L291.17 355.81 L292.39 354.30 L293.60 352.79 L294.82 351.27 L296.03 349.75 L297.25 348.24 L298.47 346.73 L299.68 345.23 L300.90 343.74 L302.11 342.26 L303.33 340.79 L304.55 339.33 L305.76 337.87 L306.98 336.42 L308.20 334.96 L309.41 333.51 L310.63 332.06 L311.84 330.60 L313.06 329.15 L314.28 327.70 L315.49 326.25 L316.71 324.79 L317.92 323.34 L319.14 321.90 L320.36 320.45 L321.57 319.00 L322.79 317.56 L324.01 316.11 L325.22 314.67 L326.44 313.23 L327.65 311.80 L328.87 310.36 L330.09 308.93 L331.30 307.50 L332.52 306.07 L333.73 304.64 L334.95 303.20 L336.17 301.77 L337.38 300.34 L338.60 298.91 L339.82 297.49 L341.03 296.07 L342.25 294.66 L343.46 293.26 L344.68 291.88 L345.90 290.51 L347.11 289.16 L348.33 287.82 L349.54 286.50 L350.76 285.21 L351.98 283.93 L353.19 282.67 L354.41 281.44 L355.62 280.24 L356.84 279.05 L358.06 277.90 L359.27 276.78 L360.49 275.68 L361.71 274.62 L362.92 273.59 L364.14 272.59 L365.35 271.63 L366.57 270.71 L367.79 269.81 L369.00 268.96 L370.22 268.14 L371.43 267.35 L372.65 266.61 L373.87 265.91 L375.08 265.25 L376.30 264.63 L377.52 264.06 L378.73 263.53 L379.95 263.04 L381.16 262.60 L382.38 262.21 L383.60 261.87 L384.81 261.58 L386.03 261.34 L387.24 261.15 L388.46 261.01 L389.68 260.91 L390.89 260.87 L392.11 260.88 L393.32 260.95 L394.54 261.06 L395.76 261.23 L396.97 261.44 L398.19 261.71 L399.41 262.03 L400.62 262.39 L401.84 262.80 L403.05 263.26 L404.27 263.77 L405.49 264.32 L406.70 264.91 L407.92 265.54 L409.13 266.22 L410.35 266.94 L411.57 267.69 L412.78 268.48 L414.00 269.31 L415.22 270.18 L416.43 271.07 L417.65 272.01 L418.86 272.97 L420.08 273.96 L421.30 274.99 L422.51 276.04 L423.73 277.12 L424.94 278.23 L426.16 279.36 L427.38 280.52 L428.59 281.70 L429.81 282.90 L431.02 284.13 L432.24 285.37 L433.46 286.64 L434.67 287.92 L435.89 289.22 L437.11 290.53 L438.32 291.86 L439.54 293.20 L440.75 294.56 L441.97 295.93 L443.19 297.32 L444.40 298.72 L445.62 300.14 L446.83 301.57 L448.05 303.01 L449.27 304.46 L450.48 305.92 L451.70 307.39 L452.92 308.86 L454.13 310.34 L455.35 311.82 L456.56 313.30 L457.78 314.78 L459.00 316.27 L460.21 317.76 L461.43 319.25 L462.64 320.74 L463.86 322.23 L465.08 323.73 L466.29 325.22 L467.51 326.72 L468.73 328.21 L469.94 329.71 L471.16 331.20 L472.37 332.69 L473.59 334.18 L474.81 335.67 L476.02 337.16 L477.24 338.64 L478.45 340.12 L479.67 341.60 L480.89 343.07 L482.10 344.55 L483.32 346.01 L484.53 347.48 L485.75 348.93 L486.97 350.39 L488.18 351.83 L489.40 353.27 L490.62 354.71 L491.83 356.14 L493.05 357.56 L494.26 358.98 L495.48 360.39 L496.70 361.79 L497.91 363.18 L499.13 364.56 L500.34 365.94 L501.56 367.31 L502.78 368.66 L503.99 370.01 L505.21 371.35 L506.43 372.68 L507.64 374.00 L508.86 375.30 L510.07 376.60 L511.29 377.88 L512.51 379.15 L513.72 380.41 L514.94 381.66 L516.15 382.89 L517.37 384.11 L518.59 385.32 L519.80 386.52 L521.02 387.70 L522.23 388.86 L523.45 390.01 L524.67 391.15 L525.88 392.27 L527.10 393.37 L528.32 394.46 L529.53 395.53 L530.75 396.58 L531.96 397.62 L533.18 398.64 L534.40 399.64 L535.61 400.63 L536.83 401.60 L538.04 402.55 L539.26 403.48 L540.48 404.39 L541.69 405.30 L542.91 406.18 L544.13 407.06 L545.34 407.92 L546.56 408.76 L547.77 409.60 L548.99 410.43 L550.21 411.24 L551.42 412.05 L552.64 412.84 L553.85 413.63 L555.07 414.41 L556.29 415.18 L557.50 415.94 L558.72 416.69 L559.93 417.44 L561.15 418.17 L562.37 418.90 L563.58 419.62 L564.80 420.34 L566.02 421.05 L567.23 421.76 L568.45 422.47 L569.66 423.18 L570.88 423.88 L572.10 424.59 L573.31 425.29 L574.53 425.99 L575.74 426.69 L576.96 427.39 L578.18 428.08 L579.39 428.77 L580.61 429.45 L581.83 430.14 L583.04 430.81 L584.26 431.49 L585.47 432.16 L586.69 432.82 L587.91 433.48 L589.12 434.14 L590.34 434.79 L591.55 435.43 L592.77 436.07 L593.99 436.70 L595.20 437.33 L596.42 437.95 L597.64 438.56 L598.85 439.18 L600.07 439.79 L601.28 440.39 L602.50 440.99 L603.72 441.59 L604.93 442.18 L606.15 442.77 L607.36 443.35 L608.58 443.92 L609.80 444.49 L611.01 445.05 L612.23 445.61 L613.44 446.16 L614.66 446.70 L615.88 447.23 L617.09 447.76 L618.31 448.29 L619.53 448.80 L620.74 449.32 L621.96 449.82 L623.17 450.32 L624.39 450.81 L625.61 451.30 L626.82 451.78 L628.04 452.26 L629.25 452.73 L630.47 453.19 L631.69 453.65 L632.90 454.11 L634.12 454.55 L635.34 455.00 L636.55 455.43 L637.77 455.87 L638.98 456.29 L640.20 456.72 L641.42 457.13 L642.63 457.54 L643.85 457.95 L645.06 458.35 L646.28 458.75 L647.50 459.14 L648.71 459.53 L649.93 459.91 L651.14 460.29 L652.36 460.67 L653.58 461.04 L654.79 461.40 L656.01 461.76 L657.23 462.12 L658.44 462.47 L659.66 462.82 L660.87 463.16 L662.09 463.50 L663.31 463.84 L664.52 464.17 L665.74 464.50 L666.95 464.82 L668.17 465.14 L669.39 465.46 L670.60 465.77 L671.82 466.08 L673.04 466.39 L674.25 466.69 L675.47 466.99 L676.68 467.28 L677.90 467.57 L679.12 467.86 L680.33 468.15 L681.55 468.43 L682.76 468.71 L683.98 468.99 L685.20 469.26 L686.41 469.53 L687.63 469.80 L688.84 470.06 L690.06 470.33 L691.28 470.59 L692.49 470.84 L693.71 471.10 L694.93 471.35 L696.14 471.60 L697.36 471.85 L698.57 472.09 L699.79 472.34 L701.01 472.58 L702.22 472.81 L703.44 473.05 L704.65 473.29 L705.87 473.52 L707.09 473.75 L708.30 473.98 L709.52 474.20 L710.74 474.43 L711.95 474.65 L713.17 474.88 L714.38 475.10 L715.60 475.31 L716.82 475.53 L718.03 475.75 L719.25 475.96 L720.46 476.18 L721.68 476.39 L722.90 476.60 L724.11 476.81 L725.33 477.02 L726.55 477.23 L727.76 477.44 L728.98 477.64 L730.19 477.85 L731.41 478.05 L732.63 478.26 L733.84 478.46 L735.06 478.67 L736.27 478.87 L737.49 479.07 L738.71 479.27 L739.92 479.48 L741.14 479.68 L742.35 479.88 L743.57 480.08 L744.79 480.28 L746.00 480.48 L747.22 480.68 L748.44 480.89 L749.65 481.09 L750.87 481.29 L752.08 481.49 L753.30 481.69" fill="none" stroke="#1337bf" stroke-opacity="0.7" stroke-width="3.85" stroke-linejoin="round"/>
</g>
<rect x="146.45" y="42.85" width="606.85" height="472.80" fill="none" stroke="#000" stroke-width="3.5"/>
<text x="149.25" y="558" font-size="26.4" text-anchor="middle">0</text>
<text x="250.39" y="558" font-size="26.4" text-anchor="middle">20</text>
<text x="351.53" y="558" font-size="26.4" text-anchor="middle">40</text>
<text x="452.67" y="558" font-size="26.4" text-anchor="middle">60</text>
<text x="553.82" y="558" font-size="26.4" text-anchor="middle">80</text>
<text x="654.96" y="558" font-size="26.4" text-anchor="middle">100</text>
<text x="756.10" y="558" font-size="26.4" text-anchor="middle">120</text>
<text x="72.1" y="525.55" font-size="26.4" textLength="60.6" lengthAdjust="spacingAndGlyphs">0.000</text>
<text x="72.1" y="407.35" font-size="26.4" textLength="60.6" lengthAdjust="spacingAndGlyphs">0.005</text>
<text x="72.1" y="289.15" font-size="26.4" textLength="60.6" lengthAdjust="spacingAndGlyphs">0.010</text>
<text x="72.1" y="170.95" font-size="26.4" textLength="60.6" lengthAdjust="spacingAndGlyphs">0.015</text>
<text x="72.1" y="52.75" font-size="26.4" textLength="60.6" lengthAdjust="spacingAndGlyphs">0.020</text>
<text transform="translate(44.1,431.8) rotate(-90)" font-size="37.5" textLength="171.4" lengthAdjust="spacingAndGlyphs">Probability</text>
<text transform="translate(44.1,246.9) rotate(-90)" font-size="37.5" textLength="120.6" lengthAdjust="spacingAndGlyphs">Density</text>
<text class="sans" x="416.3" y="618.6" font-size="46" textLength="15.6" lengthAdjust="spacingAndGlyphs">τ</text>
<text class="sans" x="432.4" y="627.4" font-size="37" textLength="49.6" lengthAdjust="spacingAndGlyphs">ror</text>
<rect x="525.6" y="55.6" width="214" height="78.3" fill="#fff" stroke="#000" stroke-width="3.1"/>
<defs>
<clipPath id="lp2"><rect x="537.9" y="88.0" width="31.2" height="13.9"/></clipPath>
<clipPath id="lp3"><rect x="537.9" y="114.0" width="31.2" height="13.9"/></clipPath>
</defs>
<rect x="537.9" y="62.2" width="31.2" height="13.9" fill="#b2b2b2" stroke="#000" stroke-width="3.6"/>
<g clip-path="url(#lp2)"><path d="M508.45 80L538.45 110M534.40 80L564.40 110M560.35 80L590.35 110" stroke="#ea3a22" stroke-width="1.6"/></g>
<rect x="537.9" y="88.0" width="31.2" height="13.9" fill="none" stroke="#e42c15" stroke-opacity="0.7" stroke-width="3.6"/>
<g clip-path="url(#lp3)"><path d="M505.35 135L535.35 105M531.30 135L561.30 105M557.25 135L587.25 105M583.20 135L613.20 105" stroke="#2344cc" stroke-width="1.6"/></g>
<rect x="537.9" y="114.0" width="31.2" height="13.9" fill="none" stroke="#1337bf" stroke-opacity="0.7" stroke-width="3.6"/>
<text x="633.6" y="78.8" font-size="24.5" textLength="10.4" lengthAdjust="spacingAndGlyphs">1</text>
<text x="656.3" y="78.4" font-size="19.5" text-anchor="middle">×</text>
<text x="668.6" y="78.8" font-size="24.5" textLength="64.6" lengthAdjust="spacingAndGlyphs">kernel</text>
<text x="633.2" y="104.8" font-size="24.5" textLength="10.4" lengthAdjust="spacingAndGlyphs">5</text>
<text x="656.3" y="104.4" font-size="19.5" text-anchor="middle">×</text>
<text x="668.6" y="104.8" font-size="24.5" textLength="64.6" lengthAdjust="spacingAndGlyphs">kernel</text>
<text x="615.6" y="130.7" font-size="24.5" textLength="28.0" lengthAdjust="spacingAndGlyphs">0.2</text>
<text x="656.3" y="130.3" font-size="19.5" text-anchor="middle">×</text>
<text x="668.6" y="130.7" font-size="24.5" textLength="64.6" lengthAdjust="spacingAndGlyphs">kernel</text>
</svg></body></html>
